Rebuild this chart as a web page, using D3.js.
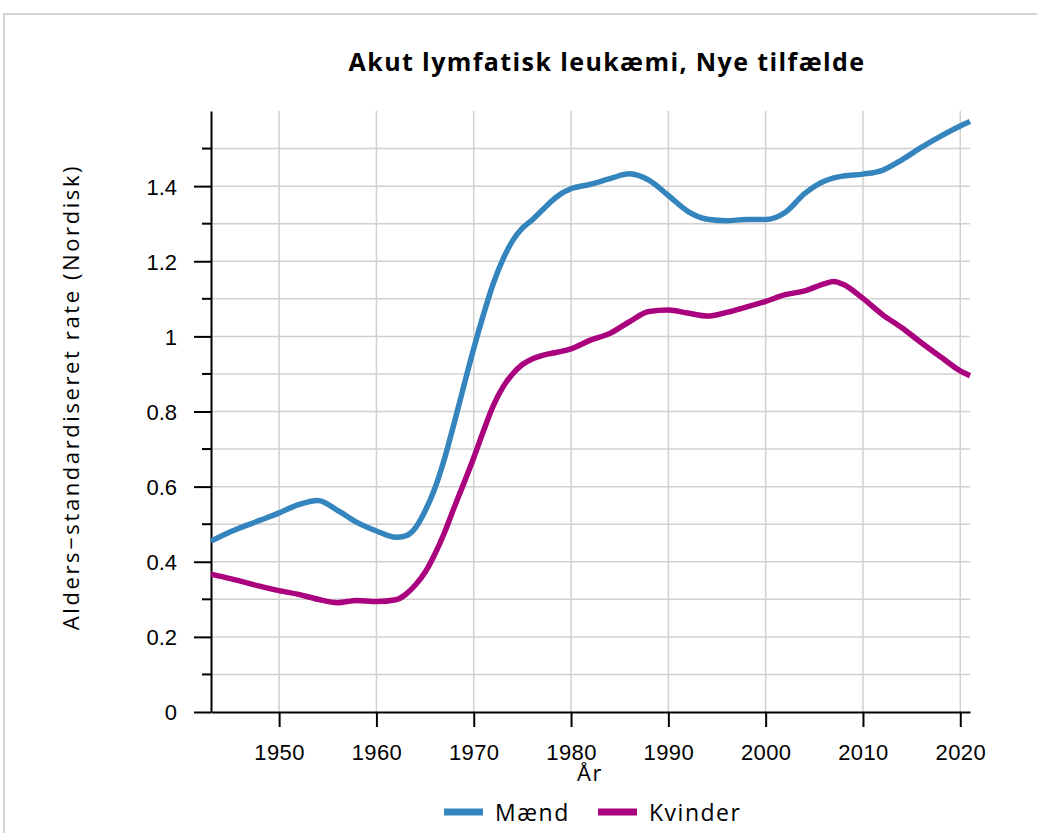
<!DOCTYPE html>
<html>
<head>
<meta charset="utf-8">
<script src="https://cdn.jsdelivr.net/npm/d3@7"></script>
<style>
  body { margin: 0; background: #fff; }
  svg text { fill: #000; }
</style>
</head>
<body>
<script>
var chartWidth = 1037,
    chartHeight = 833;

var years = [1943, 1945, 1948, 1950, 1952, 1954, 1956, 1958, 1960, 1962, 1963, 1964,
             1965, 1966, 1967, 1968, 1969, 1970, 1971, 1972, 1973, 1974, 1975, 1976,
             1977, 1978, 1979, 1980, 1982, 1984, 1986, 1988, 1990, 1992, 1994, 1996,
             1998, 2000, 2002, 2004, 2006, 2007, 2008, 2010, 2012, 2014, 2016, 2018, 2020, 2021];

var maend = [0.455, 0.48, 0.51, 0.53, 0.552, 0.563, 0.537, 0.505, 0.482, 0.465, 0.469, 0.49,
             0.535, 0.595, 0.675, 0.77, 0.87, 0.968, 1.058, 1.14, 1.205, 1.255, 1.288, 1.31,
             1.335, 1.36, 1.38, 1.393, 1.405, 1.42, 1.433, 1.416, 1.375, 1.333, 1.312, 1.308,
             1.311, 1.311, 1.33, 1.38, 1.413, 1.422, 1.427, 1.432, 1.442, 1.47, 1.503, 1.533, 1.56, 1.572];

var kvinder = [0.367, 0.355, 0.335, 0.323, 0.313, 0.3, 0.291, 0.297, 0.294, 0.299, 0.313, 0.338,
               0.372, 0.42, 0.478, 0.545, 0.61, 0.677, 0.748, 0.815, 0.865, 0.9, 0.925, 0.94,
               0.949, 0.955, 0.96, 0.967, 0.99, 1.008, 1.039, 1.066, 1.07, 1.062, 1.054, 1.064,
               1.078, 1.093, 1.111, 1.121, 1.14, 1.146, 1.138, 1.101, 1.058, 1.023, 0.983, 0.945, 0.908, 0.895];

var series = [
  { name: 'Mænd', values: maend, colour: '#3484bd' },
  { name: 'Kvinder', values: kvinder, colour: '#aa017e' }
];

var xTicks = [1950, 1960, 1970, 1980, 1990, 2000, 2010, 2020];
var yMajor = [0, 0.2, 0.4, 0.6, 0.8, 1, 1.2, 1.4];
var yMinor = [0.1, 0.3, 0.5, 0.7, 0.9, 1.1, 1.3, 1.5];

var margin = { left: 211, right: 1037 - 970, top: 111, bottom: 833 - 712 };

var svg = d3.select('body')
            .append('svg')
              .attr('xmlns', 'http://www.w3.org/2000/svg')
              .attr('width', chartWidth)
              .attr('height', chartHeight);

// outer frame
svg.append('rect')
    .attr('x', 4).attr('y', 14)
    .attr('width', 1060).attr('height', 860)
    .attr('fill', 'none')
    .attr('stroke', '#d4d4d4')
    .attr('stroke-width', 2);

var x = d3.scaleLinear().domain([1943, 2021]).range([margin.left, chartWidth - margin.right]);
var y = d3.scaleLinear().domain([0, 1.6]).range([chartHeight - margin.bottom, margin.top]);

// grid
var grid = svg.append('g').attr('stroke', '#d0d0d0').attr('stroke-width', 1.5);
grid.selectAll('line.h')
    .data(yMajor.concat(yMinor).filter(function(v) { return v > 0; }))
  .enter().append('line')
    .attr('x1', x.range()[0]).attr('x2', x.range()[1])
    .attr('y1', function(d) { return y(d); })
    .attr('y2', function(d) { return y(d); });
grid.selectAll('line.v')
    .data(xTicks)
  .enter().append('line')
    .attr('x1', function(d) { return x(d); })
    .attr('x2', function(d) { return x(d); })
    .attr('y1', y.range()[1]).attr('y2', y.range()[0]);

// axes
var xAxis = svg.append('g')
    .attr('transform', 'translate(0,' + y(0) + ')')
    .call(d3.axisBottom(x).tickValues(xTicks).tickFormat(d3.format('d')).tickSize(15).tickSizeOuter(0));
xAxis.select('.domain').attr('stroke-width', 2);
xAxis.selectAll('.tick line').attr('stroke-width', 2);
xAxis.selectAll('.tick text')
    .attr('y', 48).attr('dy', 0)
    .style('font-family', '"Liberation Sans", Arial, sans-serif')
    .style('font-size', '22px')
    .style('letter-spacing', '0.4px');

var yAxis = svg.append('g')
    .attr('transform', 'translate(' + x(1943) + ',0)')
    .call(d3.axisLeft(y).tickValues(yMajor).tickFormat(d3.format('~g')).tickSize(17).tickSizeOuter(0));
yAxis.select('.domain').attr('stroke-width', 2);
yAxis.selectAll('.tick line').attr('stroke-width', 2);
yAxis.selectAll('.tick text')
    .attr('x', -34).attr('dy', '0.36em')
    .style('font-family', '"Liberation Sans", Arial, sans-serif')
    .style('font-size', '22px');

yAxis.selectAll('line.minor')
    .data(yMinor)
  .enter().append('line')
    .attr('class', 'minor')
    .attr('x1', -9).attr('x2', 0)
    .attr('y1', function(d) { return y(d); })
    .attr('y2', function(d) { return y(d); })
    .attr('stroke', '#000').attr('stroke-width', 2);

// lines
var line = d3.line()
    .x(function(d, i) { return x(years[i]); })
    .y(function(d) { return y(d); })
    .curve(d3.curveMonotoneX);

svg.selectAll('path.series')
    .data(series)
  .enter().append('path')
    .attr('class', 'series')
    .attr('d', function(s) { return line(s.values); })
    .attr('fill', 'none')
    .attr('stroke', function(s) { return s.colour; })
    .attr('stroke-width', 5.5)
    .attr('stroke-linejoin', 'round');

// titles
svg.append('text')
    .attr('x', 607).attr('y', 71)
    .attr('text-anchor', 'middle')
    .style('font-family', '"Open Sans", sans-serif')
    .style('font-weight', 'bold')
    .style('font-size', '25px')
    .style('letter-spacing', '1.4px')
    .text('Akut lymfatisk leukæmi, Nye tilfælde');

svg.append('text')
    .attr('transform', 'translate(79,397) rotate(-90)')
    .attr('text-anchor', 'middle')
    .style('font-family', '"Open Sans", sans-serif')
    .style('font-size', '22px')
    .style('letter-spacing', '2.6px')
    .text('Alders\u2212standardiseret rate (Nordisk)');

svg.append('text')
    .attr('x', 590).attr('y', 781)
    .attr('text-anchor', 'middle')
    .style('font-family', '"Open Sans", sans-serif')
    .style('font-size', '22px')
    .style('letter-spacing', '1.5px')
    .text('År');

// legend
var legend = svg.selectAll('g.legend')
    .data(series)
  .enter().append('g')
    .attr('class', 'legend')
    .attr('transform', function(s, i) { return 'translate(' + (444 + i * 154) + ',812)'; });
legend.append('line')
    .attr('x1', 0).attr('x2', 39)
    .attr('stroke', function(s) { return s.colour; })
    .attr('stroke-width', 7);
legend.append('text')
    .attr('x', 51).attr('y', 9)
    .style('font-family', '"Open Sans", sans-serif')
    .style('font-size', '23px')
    .style('letter-spacing', '1.5px')
    .text(function(s) { return s.name; });
</script>
</body>
</html>
